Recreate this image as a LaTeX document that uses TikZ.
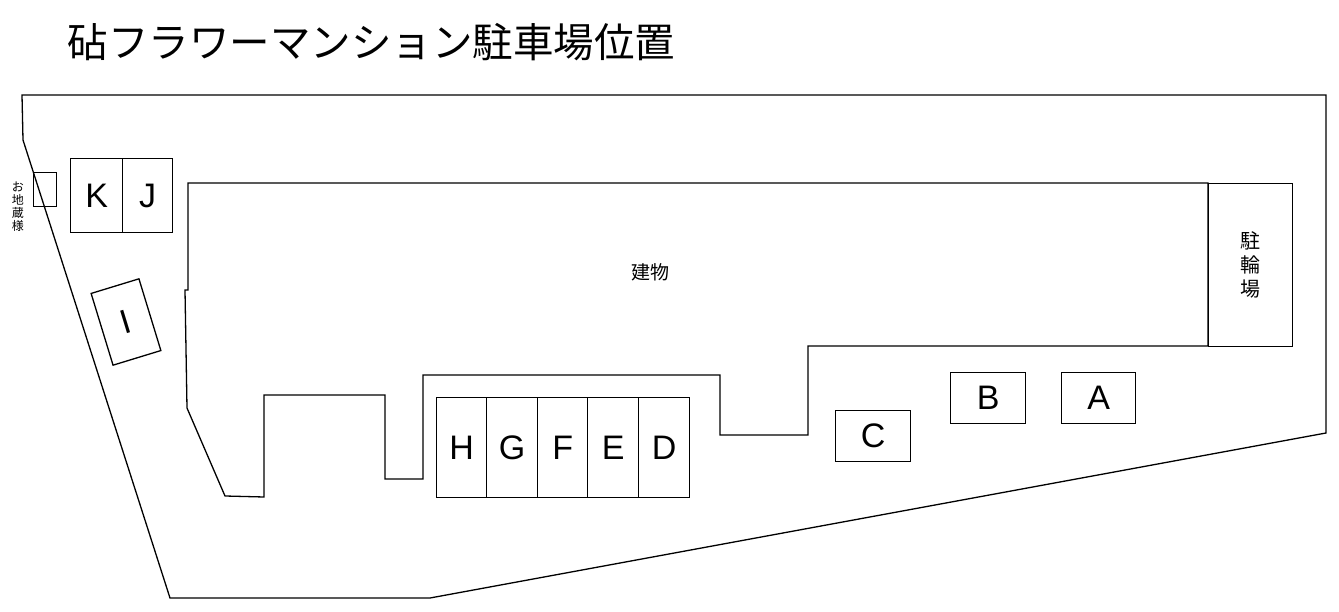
\documentclass[tikz,border=0pt]{standalone}
\usepackage{fontspec}
\setmainfont{Liberation Sans}
\newfontfamily\cjk{Noto Sans CJK JP}
\begin{document}
\begin{tikzpicture}[x=1pt,y=-1pt,line width=1.3pt,
  slot/.style={draw,minimum width=50pt,minimum height=100pt,inner sep=0pt,font=\fontsize{34}{40}\selectfont},
  slotb/.style={draw,minimum width=75pt,minimum height=51pt,inner sep=0pt,font=\fontsize{34}{40}\selectfont}]
\useasboundingbox (0,0) rectangle (1339,612);
\node[anchor=west,font=\cjk\fontsize{40.5}{44}\selectfont] (title) at (64,42) {砧フラワーマンション駐車場位置};
% lot
\draw (22,95) -- (1326,95) -- (1326,433) -- (430,598) -- (170,598) -- (23,140) -- cycle;
% building
\draw (188,183) -- (1208,183) -- (1208,346) -- (808,346) -- (808,435) -- (720,435) -- (720,375) -- (423,375) -- (423,479) -- (385,479) -- (385,395) -- (264,395) -- (264,497) -- (225,496) -- (187,408) -- (185,290) -- (188,290) -- cycle;
\node[font=\cjk\fontsize{19}{20}\selectfont] (bld) at (650,272) {建物};
\node[draw,minimum width=84pt,minimum height=163pt,inner sep=0pt,anchor=north west,align=center,font=\cjk\fontsize{20}{24}\selectfont] (bike) at (1208,183) {駐\\輪\\場};
% jizo
\node[draw,minimum width=23pt,minimum height=34pt,inner sep=0pt,anchor=north west] (jizo) at (33,172) {};
\node[align=center,font=\cjk\fontsize{12}{13}\selectfont] (jizot) at (18,207) {お\\地\\蔵\\様};
% K J
\node[slot,minimum height=74pt,minimum width=52pt,anchor=north west] (K) at (70,158) {K};
\node[slot,minimum height=74pt,anchor=north west] (J) at (122,158) {J};
\node[slot,minimum height=75pt,rotate=17] (I) at (126,322) {I};
% H..D
\node[slot,anchor=north west] (H) at (436,397) {H};
\node[slot,anchor=north west,minimum width=51pt] (G) at (486,397) {G};
\node[slot,anchor=north west] (F) at (537,397) {F};
\node[slot,anchor=north west,minimum width=51pt] (E) at (587,397) {E};
\node[slot,anchor=north west,minimum width=51pt] (D) at (638,397) {D};
% C B A
\node[slotb,anchor=north west] (C) at (835,410) {C};
\node[slotb,anchor=north west] (B) at (950,372) {B};
\node[slotb,anchor=north west,minimum width=74pt] (A) at (1061,372) {A};
\end{tikzpicture}
\end{document}
